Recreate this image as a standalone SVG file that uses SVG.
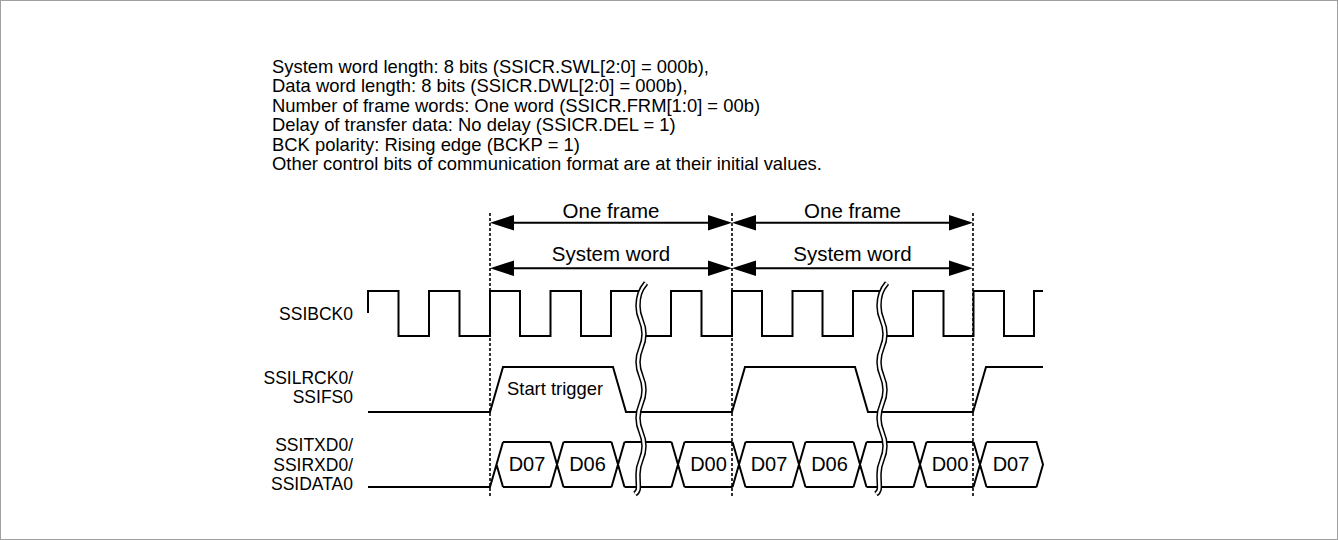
<svg xmlns="http://www.w3.org/2000/svg" width="1338" height="540" viewBox="0 0 1338 540">
<defs>
<style>
.t{font-family:"Liberation Sans",Arial,sans-serif;font-size:18.4px;fill:#000}
.lb{font-family:"Liberation Sans",Arial,sans-serif;font-size:17.5px;fill:#000;text-anchor:end}
.d{font-family:"Liberation Sans",Arial,sans-serif;font-size:20px;fill:#000;text-anchor:middle}
.f{font-family:"Liberation Sans",Arial,sans-serif;font-size:20.5px;fill:#000;text-anchor:middle}
.w{fill:none;stroke:#000;stroke-width:2;stroke-linejoin:miter}
.dash{fill:none;stroke:#000;stroke-width:1.6;stroke-dasharray:3 2}
.ar{fill:none;stroke:#000;stroke-width:2}
.ah{fill:#000}
.bko{fill:none;stroke:#000;stroke-width:5.5}
.bki{fill:none;stroke:#fff;stroke-width:2.5}
</style>
<path id="brk" d="M646,283 C640,290 638,296 638,306 C638,320 644,320 644,334 S638,348 638,362 S644,376 644,390 S638,404 638,418 S644,432 644,446 S638,460 638,474 S640,490 635,494"/>
</defs>
<rect x="0.5" y="0.5" width="1337" height="539" fill="#fff" stroke="#a0a0a0" stroke-width="1"/>
<g id="header">
<text class="t" x="272" y="72.5">System word length: 8 bits (SSICR.SWL[2:0] = 000b),</text>
<text class="t" x="272" y="92">Data word length: 8 bits (SSICR.DWL[2:0] = 000b),</text>
<text class="t" x="272" y="111.5">Number of frame words: One word (SSICR.FRM[1:0] = 00b)</text>
<text class="t" x="272" y="131">Delay of transfer data: No delay (SSICR.DEL = 1)</text>
<text class="t" x="272" y="150.5">BCK polarity: Rising edge (BCKP = 1)</text>
<text class="t" x="272" y="170">Other control bits of communication format are at their initial values.</text>
</g>
<g id="labels">
<text class="lb" x="353" y="320">SSIBCK0</text>
<text class="lb" x="353" y="383.5">SSILRCK0/</text>
<text class="lb" x="353" y="403">SSIFS0</text>
<text class="lb" x="353" y="451">SSITXD0/</text>
<text class="lb" x="353" y="470.5">SSIRXD0/</text>
<text class="lb" x="353" y="490">SSIDATA0</text>
</g>
<g id="guides">
<line class="dash" x1="490" y1="213" x2="490" y2="497"/>
<line class="dash" x1="732" y1="213" x2="732" y2="497"/>
<line class="dash" x1="973" y1="213" x2="973" y2="497"/>
</g>
<g id="connectors">
<line class="ar" x1="500" y1="222.7" x2="722" y2="222.7"/>
<polygon class="ah" points="490,222.7 514,214.9 514,230.5"/>
<polygon class="ah" points="732,222.7 708,214.9 708,230.5"/>
<line class="ar" x1="742" y1="222.7" x2="963" y2="222.7"/>
<polygon class="ah" points="732,222.7 756,214.9 756,230.5"/>
<polygon class="ah" points="973,222.7 949,214.9 949,230.5"/>
<line class="ar" x1="500" y1="268.3" x2="722" y2="268.3"/>
<polygon class="ah" points="490,268.3 514,260.5 514,276.1"/>
<polygon class="ah" points="732,268.3 708,260.5 708,276.1"/>
<line class="ar" x1="742" y1="268.3" x2="963" y2="268.3"/>
<polygon class="ah" points="732,268.3 756,260.5 756,276.1"/>
<polygon class="ah" points="973,268.3 949,260.5 949,276.1"/>
</g>
<g id="spans">
<text class="f" x="611" y="217.5">One frame</text>
<text class="f" x="852.5" y="217.5">One frame</text>
<text class="f" x="611" y="260.5">System word</text>
<text class="f" x="852.5" y="260.5">System word</text>
</g>
<g id="ssibck0">
<path class="w" d="M368,313 V291 H398.5 V336 H429 V291 H459.5 V336 H490 V291 H520 V336 H550.5 V291 H581 V336 H611 V291 H641 M641,336 H671 V291 H701.5 V336 H732 V291 H762 V336 H792.5 V291 H822.5 V336 H853 V291 H882 M882,336 H913 V291 H943.5 V336 H973.5 V291 H1004 V336 H1034 V291 H1043"/>
</g>
<g id="ssilrck0">
<path class="w" d="M368,412 H490 L503,367 H613 L626,412 H732 L745,367 H855 L868,412 H973 L986,367 H1043"/>
<text class="t" x="507" y="395">Start trigger</text>
</g>
<g id="ssidata0">
<path class="w" d="M368,487 H490 L503,442 M496.5,464.5 L503,487
M550.5,442 L563.5,487 M550.5,487 L563.5,442
M611.5,442 L624.5,487 M611.5,487 L624.5,442
M671.5,442 L684.5,487 M671.5,487 L684.5,442
M732.5,442 L745.5,487 M732.5,487 L745.5,442
M792.5,442 L805.5,487 M792.5,487 L805.5,442
M853.5,442 L866.5,487 M853.5,487 L866.5,442
M913.5,442 L926.5,487 M913.5,487 L926.5,442
M973.5,442 L986.5,487 M973.5,487 L986.5,442
M503,442 H550.5 M563.5,442 H611.5 M624.5,442 H671.5 M684.5,442 H732.5 M745.5,442 H792.5 M805.5,442 H853.5 M866.5,442 H913.5 M926.5,442 H973.5 M986.5,442 H1036.5 L1043,464.5 L1036.5,487
M503,487 H550.5 M563.5,487 H611.5 M624.5,487 H671.5 M684.5,487 H732.5 M745.5,487 H792.5 M805.5,487 H853.5 M866.5,487 H913.5 M926.5,487 H973.5 M986.5,487 H1036.5"/>
<text class="d" x="527" y="471">D07</text>
<text class="d" x="587.5" y="471">D06</text>
<text class="d" x="708.5" y="471">D00</text>
<text class="d" x="769" y="471">D07</text>
<text class="d" x="829.5" y="471">D06</text>
<text class="d" x="950" y="471">D00</text>
<text class="d" x="1011" y="471">D07</text>
</g>
<g id="breaks">
<use href="#brk" class="bko"/>
<use href="#brk" class="bki"/>
<use href="#brk" class="bko" transform="translate(241,0)"/>
<use href="#brk" class="bki" transform="translate(241,0)"/>
</g>
</svg>
